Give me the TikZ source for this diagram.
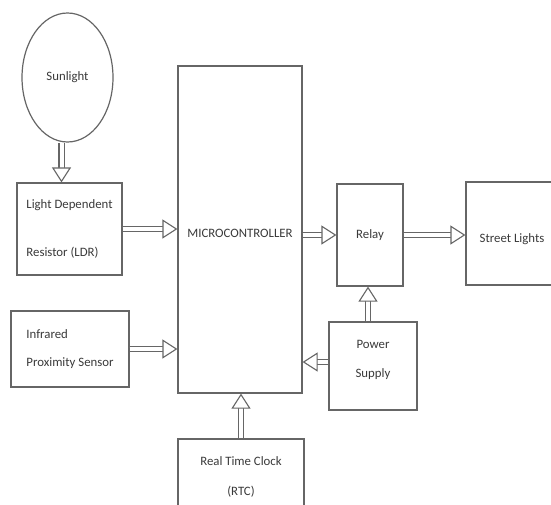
\documentclass[tikz,border=0pt]{standalone}
\usepackage{fontspec}
\setmainfont{Carlito}
\usetikzlibrary{arrows.meta,shapes.geometric}
\definecolor{linegray}{HTML}{666666}
\definecolor{textgray}{HTML}{3A3A3A}
\tikzset{
  blockbox/.style={draw=linegray, line width=1.2pt, text=textgray, inner sep=2pt,
    font=\fontsize{12.8}{14}\selectfont},
  flow/.style={draw=linegray, line width=1.1pt, double=white, double distance=4pt,
    -{Triangle[open, fill=white, length=15pt, width=19pt, line width=1.1pt]}},
}
\begin{document}
\begin{tikzpicture}[x=1pt,y=-1pt]
\fill[white] (0,0) rectangle (551,504);
\clip (0,0) rectangle (551,504);
% blocks
\node[blockbox, ellipse, minimum width=91, minimum height=129] (sun) at (67.5,77.5) {Sunlight};
\node[blockbox, minimum width=105, minimum height=92, align=left,
  font=\fontsize{12.8}{48}\selectfont] (ldr) at (69.5,229) {Light Dependent\\Resistor (LDR)};
\node[blockbox, minimum width=118, minimum height=76, align=left,
  font=\fontsize{12.8}{28}\selectfont] (ir) at (70,349) {Infrared\\Proximity Sensor};
\node[blockbox, minimum width=124, minimum height=327, text height=16pt] (mc) at (240,229.5) {MICROCONTROLLER};
\node[blockbox, minimum width=66, minimum height=102] (relay) at (370,235) {Relay};
\node[blockbox, minimum width=92, minimum height=103, text height=20pt] (lights) at (512,233.5) {Street Lights};
\node[blockbox, minimum width=88, minimum height=88, align=center, text depth=14pt,
  font=\fontsize{12.8}{29}\selectfont] (ps) at (373,366) {Power\\Supply};
\node[blockbox, minimum width=126, minimum height=76, align=center,
  font=\fontsize{12.8}{30}\selectfont] (rtc) at (241,477) {Real Time Clock\\(RTC)};
% connections
\draw[flow] ([xshift=-6pt]sun.south) -- ([xshift=-6pt]sun.south |- ldr.north);
\draw[flow] (ldr.east) -- (ldr.east -| mc.west);
\draw[flow] (ir.east) -- (ir.east -| mc.west);
\draw[flow] (mc.east |- relay.west) -- (relay.west);
\draw[flow] (relay.east) -- (relay.east -| lights.west);
\draw[flow] ([xshift=-5pt]ps.north) -- ([xshift=-5pt]ps.north |- relay.south);
\draw[flow] ([yshift=4pt]ps.west) -- ([yshift=4pt]ps.west -| mc.east);
\draw[flow] (rtc.north) -- (rtc.north |- mc.south);
\end{tikzpicture}
\end{document}
